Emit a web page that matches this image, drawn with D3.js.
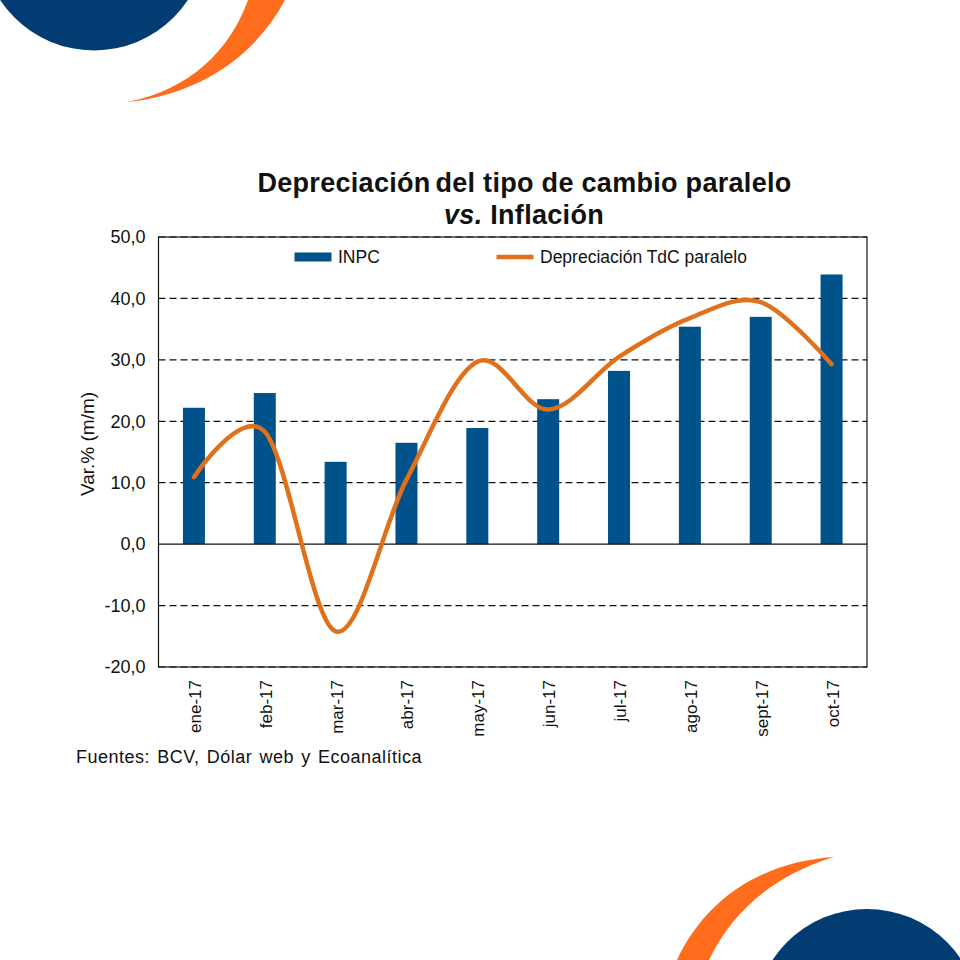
<!DOCTYPE html>
<html>
<head>
<meta charset="utf-8">
<script src="https://cdn.jsdelivr.net/npm/d3@7"></script>
<style>
  html, body { margin: 0; padding: 0; background: #fff; }
  svg { display: block; }
  text { font-family: "Liberation Sans", Arial, sans-serif; fill: #111; }
  .axis path, .axis line { display: none; }
  .axis text { font-family: "Liberation Sans", Arial, sans-serif; fill: #111; }
  .y.axis text { font-size: 18px; }
  .x.axis text { font-size: 17px; }
</style>
</head>
<body>
<div id="chart"></div>
<script>
const months = ['ene-17', 'feb-17', 'mar-17', 'abr-17', 'may-17', 'jun-17', 'jul-17', 'ago-17', 'sept-17', 'oct-17'];
const inpc = [22.2, 24.6, 13.4, 16.5, 18.9, 23.6, 28.2, 35.4, 37.0, 43.9];
const depreciacion = [10.9, 18.3, -14.2, 10.5, 29.7, 21.9, 30.5, 36.8, 39.4, 29.3];
const yTicks = [-20, -10, 0, 10, 20, 30, 40, 50];

const margin = {top: 237, right: 93, bottom: 293, left: 158.5};
const width = 960, height = 960;
const w = width - margin.left - margin.right;
const h = height - margin.top - margin.bottom;

const svg = d3.select('#chart').append('svg')
  .attr('width', width)
  .attr('height', height);

// Corner decoration
const drawCorners = () => {
  const deco = svg.append('g').attr('class', 'corners');
  deco.append('circle').attr('cx', 94).attr('cy', -62).attr('r', 112.5).attr('fill', '#033b73');
  deco.append('circle').attr('cx', 867).attr('cy', 1022).attr('r', 113).attr('fill', '#033b73');

  const top = d3.path();
  top.moveTo(127, 102);
  top.bezierCurveTo(190, 90, 230, 50, 248, 0);
  top.lineTo(285, 0);
  top.bezierCurveTo(253, 60, 195, 95, 127, 102);
  top.closePath();
  deco.append('path').attr('d', top.toString()).attr('fill', '#ff6c1c');

  const bottom = d3.path();
  bottom.moveTo(834, 857);
  bottom.bezierCurveTo(760, 862, 705, 900, 677, 960);
  bottom.lineTo(709, 960);
  bottom.bezierCurveTo(733, 910, 775, 875, 834, 857);
  bottom.closePath();
  deco.append('path').attr('d', bottom.toString()).attr('fill', '#ff6c1c');
}
drawCorners();

// Title
const title = svg.append('text')
  .attr('text-anchor', 'middle')
  .style('font-size', '27px')
  .style('font-weight', 'bold')
  .style('letter-spacing', '0.3px');
const line1 = title.append('tspan').attr('x', 524.5).attr('y', 192);
line1.append('tspan').text('Depreciación');
line1.append('tspan').attr('dx', -3).text(' del tipo de cambio paralelo');
const line2 = title.append('tspan').attr('x', 524).attr('y', 224);
line2.append('tspan').style('font-style', 'italic').text('vs.');
line2.append('tspan').text(' Inflación');

const g = svg.append('g')
  .attr('class', 'group-container')
  .attr('transform', 'translate(' + margin.left + ',' + margin.top + ')');

const x = d3.scaleBand().domain(months).range([0, w]);
const y = d3.scaleLinear().domain([-20, 50]).range([h, 0]);

// Plot frame
g.append('rect')
  .attr('width', w)
  .attr('height', h)
  .attr('fill', 'none')
  .attr('stroke', '#111')
  .attr('stroke-width', 1.2);

// Dashed grid
g.append('g').attr('class', 'grid')
  .selectAll('line')
  .data(yTicks.filter((d) => d !== 0))
  .enter()
  .append('line')
  .attr('x1', 0)
  .attr('x2', w)
  .attr('y1', (d) => y(d))
  .attr('y2', (d) => y(d))
  .attr('stroke', '#111')
  .attr('stroke-width', 1.2)
  .attr('stroke-dasharray', '7,4');

// Bars
const barWidth = 22;
g.append('g').attr('class', 'bars')
  .selectAll('rect')
  .data(inpc)
  .enter()
  .append('rect')
  .attr('x', (d, i) => x(months[i]) + x.bandwidth() / 2 - barWidth / 2)
  .attr('y', (d) => y(d))
  .attr('width', barWidth)
  .attr('height', (d) => y(0) - y(d))
  .attr('fill', '#00538a');

// Zero line
g.append('line')
  .attr('x1', 0)
  .attr('x2', w)
  .attr('y1', y(0))
  .attr('y2', y(0))
  .attr('stroke', '#111')
  .attr('stroke-width', 1.2);

// Smoothed line
const line = d3.line()
  .x((d, i) => x(months[i]) + x.bandwidth() / 2)
  .y((d) => y(d))
  .curve(d3.curveCardinal.tension(0));

g.append('path')
  .datum(depreciacion)
  .attr('d', line)
  .attr('fill', 'none')
  .attr('stroke', '#e0701a')
  .attr('stroke-width', 4.5)
  .attr('stroke-linecap', 'round');

// Axes
g.append('g').attr('class', 'y axis')
  .call(d3.axisLeft(y)
    .tickValues(yTicks)
    .tickSize(0)
    .tickPadding(13)
    .tickFormat((d) => d3.format('.1f')(d).replace('.', ',').replace('\u2212', '-')));

g.append('g').attr('class', 'x axis')
  .attr('transform', 'translate(0,' + h + ')')
  .call(d3.axisBottom(x).tickSize(0))
  .selectAll('text')
  .attr('transform', 'rotate(-90)')
  .attr('x', -13)
  .attr('y', 1)
  .attr('dy', '.35em')
  .style('text-anchor', 'end');

// Y label
svg.append('text')
  .attr('transform', 'translate(94,444) rotate(-90)')
  .attr('text-anchor', 'middle')
  .style('font-size', '19px')
  .text('Var.% (m/m)');

// Legend
const legend = g.append('g').attr('class', 'legend-container');
legend.append('rect')
  .attr('x', 136)
  .attr('y', 15.5)
  .attr('width', 37)
  .attr('height', 9)
  .attr('fill', '#00538a');
legend.append('text')
  .attr('x', 179.5)
  .attr('y', 25.5)
  .style('font-size', '17.5px')
  .text('INPC');
legend.append('line')
  .attr('x1', 338)
  .attr('x2', 375)
  .attr('y1', 20)
  .attr('y2', 20)
  .attr('stroke', '#e0701a')
  .attr('stroke-width', 4.5);
legend.append('text')
  .attr('x', 381.5)
  .attr('y', 25.5)
  .style('font-size', '17.5px')
  .text('Depreciación TdC paralelo');

// Sources
svg.append('text')
  .attr('x', 76)
  .attr('y', 762.5)
  .style('font-size', '18px')
  .style('word-spacing', '1.7px')
  .style('letter-spacing', '0.5px')
  .text('Fuentes: BCV, Dólar web y Ecoanalítica');
</script>
</body>
</html>
